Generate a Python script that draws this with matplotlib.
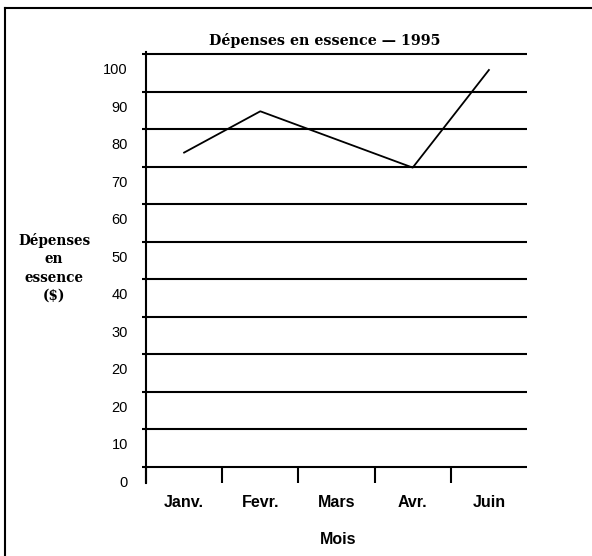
import matplotlib
matplotlib.use("Agg")
import matplotlib.pyplot as plt
from matplotlib.lines import Line2D
import numpy as np

# data
months = ["Janv.", "Fevr.", "Mars", "Avr.", "Juin"]
point_months = ["Janv.", "Fevr.", "Avr.", "Juin"]
spending = [78, 89, 74, 101]
y_labels = ["0", "10", "20", "20", "30", "40", "50", "60", "70", "80", "90", "100"]
label_offset = 0.426  # labels sit between the ruled lines

plt.rcParams['font.family'] = ['Liberation Sans', 'DejaVu Sans']

fig = plt.figure(figsize=(5.92, 5.56), dpi=100)
ax = fig.add_axes([146 / 592, 1 - 467 / 556, (527 - 146) / 592, (467 - 54) / 556])
ax.set_xlim(0, len(months))
ax.set_ylim(0, len(y_labels) - 1)
for s in ax.spines.values():
    s.set_visible(False)

# ruled lines
ax.hlines(np.arange(len(y_labels)), -0.055, len(months), color="black", lw=1.5, clip_on=False)
# y axis line
ax.plot([0, 0], [-label_offset, len(y_labels) - 1 + 0.05], color="black", lw=1.5, clip_on=False)

# y labels
tick_pos = np.arange(len(y_labels)) - label_offset
ax.set_yticks([])
for p, lab in zip(tick_pos, y_labels):
    ax.text(-18 / 76, p, lab, ha="right", va="center", fontsize=10.5, clip_on=False)

# x ticks and month labels
ax.set_xticks(np.arange(len(months)))
ax.set_xticklabels([])
ax.tick_params(axis="x", which="major", length=11.5, width=1.5, direction="out", color="black")
ax.set_xticks(np.arange(len(months)) + 0.5, minor=True)
ax.set_xticklabels(months, minor=True, fontweight="bold", fontsize=11.5)
ax.tick_params(axis="x", which="minor", length=0, pad=20)

# line
xs = [months.index(m) + 0.5 for m in point_months]
num_vals = [float(v) for v in y_labels[3:]]
ys = np.interp(spending, num_vals, tick_pos[3:])
ax.plot(xs, ys, color="black", lw=1.3, clip_on=False)

fig.text(325 / 592, 1 - 40 / 556, "Dépenses en essence — 1995", ha="center", va="center",
         family="DejaVu Serif", fontweight="bold", fontsize=10.3)
fig.text(54 / 592, 1 - 268 / 556, "Dépenses\nen\nessence\n($)", ha="center", va="center",
         family="DejaVu Serif", fontweight="bold", fontsize=9.8, linespacing=1.4)
fig.text(338 / 592, 1 - 540 / 556, "Mois", ha="center", va="center", fontweight="bold", fontsize=11.5)

# frame (top and left edge only)
fig.add_artist(Line2D([5 / 592, 1], [1 - 8 / 556, 1 - 8 / 556], color="black", lw=1.5))
fig.add_artist(Line2D([5 / 592, 5 / 592], [0, 1 - 8 / 556], color="black", lw=1.5))

fig.savefig("out.png", dpi=100)
